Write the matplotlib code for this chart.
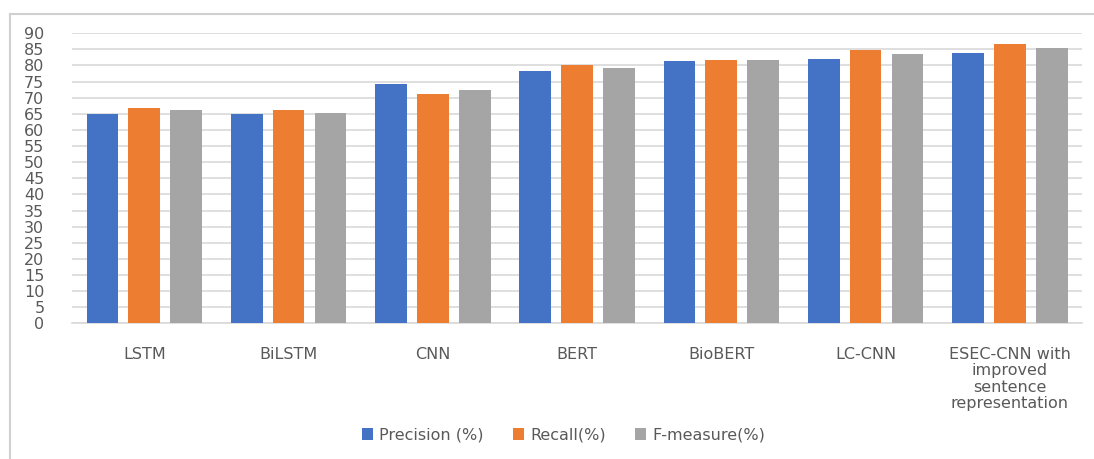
import numpy as np
import matplotlib
matplotlib.use('Agg')
import matplotlib.pyplot as plt
from matplotlib.lines import Line2D

models = ['LSTM', 'BiLSTM', 'CNN', 'BERT', 'BioBERT', 'LC-CNN',
          'ESEC-CNN with\nimproved\nsentence\nrepresentation']
precision = [64.9, 64.8, 74.2, 78.3, 81.3, 82.1, 83.9]
recall = [66.9, 66.1, 71.2, 80.0, 81.7, 84.7, 86.8]
fmeasure = [66.1, 65.4, 72.4, 79.1, 81.6, 83.5, 85.5]
series_names = ['Precision (%)', 'Recall(%)', 'F-measure(%)']
colors = ['#4472C4', '#ED7D31', '#A5A5A5']
text_col = '#595959'

fig = plt.figure(figsize=(10.94, 4.59), dpi=100)
ax = fig.add_axes([0.066, 0.2956, 0.923, 0.632])

x = np.arange(len(models))
w = 0.22
step = 0.29
for i, vals in enumerate([precision, recall, fmeasure]):
    ax.bar(x + (i - 1) * step, vals, w, color=colors[i], label=series_names[i], zorder=3)

ax.set_xlim(-0.5, len(models) - 0.5)
ax.set_ylim(0, 90)
ax.set_yticks(range(0, 91, 5))
ax.yaxis.grid(True, color='#D9D9D9', linewidth=1.2, zorder=0)
ax.set_xticks(x)
ax.set_xticklabels(models, fontsize=11.5, color=text_col, linespacing=1.12)
ax.tick_params(axis='y', labelsize=11.5, labelcolor=text_col, length=0, pad=20)
ax.tick_params(axis='x', length=0, pad=17)
for s in ['top', 'right', 'left']:
    ax.spines[s].set_visible(False)
ax.spines['bottom'].set_color('#D9D9D9')
ax.spines['bottom'].set_linewidth(1.2)

fig.legend(loc='center', bbox_to_anchor=(0.515, 0.052), ncol=3, frameon=False,
           fontsize=11.5, labelcolor=text_col, handlelength=0.7, handleheight=0.7,
           handletextpad=0.4, columnspacing=1.8)

# outer chart frame (top and left edges)
fig.add_artist(Line2D([0.0095, 0.0095], [0.0, 0.97], transform=fig.transFigure,
                      color='#D0D0D0', linewidth=1.5))
fig.add_artist(Line2D([0.0095, 1.0], [0.97, 0.97], transform=fig.transFigure,
                      color='#D0D0D0', linewidth=1.5))

fig.savefig('out.png', dpi=100)
